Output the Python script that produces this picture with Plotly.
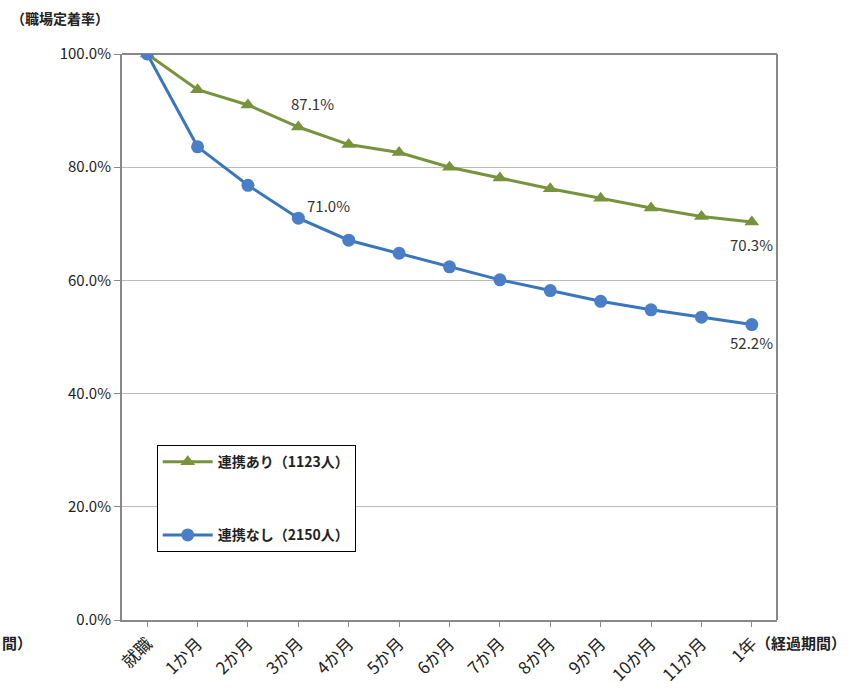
import plotly.graph_objects as go

categories = ["就職", "1か月", "2か月", "3か月", "4か月", "5か月", "6か月",
              "7か月", "8か月", "9か月", "10か月", "11か月", "1年"]
with_link = [100.0, 93.7, 91.0, 87.1, 84.0, 82.6, 80.0, 78.1, 76.2, 74.5, 72.8, 71.3, 70.3]
without_link = [100.0, 83.6, 76.8, 71.0, 67.1, 64.8, 62.4, 60.1, 58.2, 56.3, 54.8, 53.5, 52.2]
name_with = "連携あり（1123人）"
name_without = "連携なし（2150人）"
y_ticks = [0, 20, 40, 60, 80, 100]

FONT = "Noto Sans CJK JP"
GREEN = "#77933C"
BLUE = "#3A76BE"
BLUE_MK = "#4A7FC8"
TXT = "#222222"

fig = go.Figure()
fig.add_trace(go.Scatter(
    x=categories, y=with_link, name=name_with, mode="lines+markers",
    line=dict(color=GREEN, width=3),
    marker=dict(symbol="triangle-up", size=13, color=GREEN),
    legendgroup="a",
))
fig.add_trace(go.Scatter(
    x=categories, y=without_link, name=name_without, mode="lines+markers",
    line=dict(color=BLUE, width=3),
    marker=dict(symbol="circle", size=13, color=BLUE_MK),
    legendgroup="b",
))

# value labels on selected points: (index, series, x offset, y offset downward)
labels = [
    (3, with_link, 14, -24),
    (3, without_link, 30, -13),
    (12, with_link, 0, 22),
    (12, without_link, 0, 18),
]
for i, series, dx, dy in labels:
    fig.add_annotation(
        x=categories[i], y=series[i], text=f"{series[i]:.1f}%",
        showarrow=False, xshift=dx, yshift=-dy,
        font=dict(family=FONT, size=15, color="#333333"),
    )

fig.add_annotation(
    xref="paper", yref="paper", x=-0.172, y=1.063, xanchor="left", yanchor="middle",
    text="（職場定着率）", showarrow=False,
    font=dict(family=FONT, size=14, color=TXT, weight="bold"),
)
fig.add_annotation(
    xref="paper", yref="paper", x=0.965, y=-0.04, xanchor="left", yanchor="middle",
    text="（経過期間）", showarrow=False,
    font=dict(family=FONT, size=15, color=TXT, weight="bold"),
)
fig.add_annotation(
    xref="paper", yref="paper", x=-0.186, y=-0.04, xanchor="left", yanchor="middle",
    text="間）", showarrow=False,
    font=dict(family=FONT, size=15, color=TXT, weight="bold"),
)

fig.update_layout(
    width=865, height=696,
    margin=dict(l=122, r=88, t=54, b=76, autoexpand=False),
    paper_bgcolor="white", plot_bgcolor="white",
    font=dict(family=FONT, color=TXT),
    showlegend=True,
    legend=dict(
        x=0.053, y=0.309, xanchor="left", yanchor="top",
        bgcolor="white", bordercolor="#000000", borderwidth=1,
        font=dict(family=FONT, size=14, color=TXT, weight="bold"),
        tracegroupgap=52, itemwidth=50,
    ),
    xaxis=dict(
        type="category", range=[-0.5, 12.5], automargin=False,
        tickangle=-45, tickfont=dict(family=FONT, size=17, color=TXT),
        showline=True, linecolor="#888888", linewidth=2, mirror=False,
        ticks="outside", ticklen=5, tickcolor="#888888",
        showgrid=False, zeroline=False,
    ),
    yaxis=dict(
        range=[0, 100], tickvals=y_ticks, automargin=False,
        ticktext=[f"{v:.1f}%" for v in y_ticks],
        tickfont=dict(family=FONT, size=15, color=TXT),
        showline=True, linecolor="#888888", linewidth=2,
        ticks="outside", ticklen=6, tickcolor="#888888",
        showgrid=True, gridcolor="#BBBBBB", gridwidth=1, zeroline=False,
    ),
    shapes=[
        dict(type="line", xref="paper", yref="paper", x0=0, x1=1, y0=1, y1=1,
             line=dict(color="#888888", width=2), layer="below"),
        dict(type="line", xref="paper", yref="paper", x0=1, x1=1, y0=0, y1=1,
             line=dict(color="#888888", width=2), layer="below"),
    ],
)

fig.write_html("out.html")
